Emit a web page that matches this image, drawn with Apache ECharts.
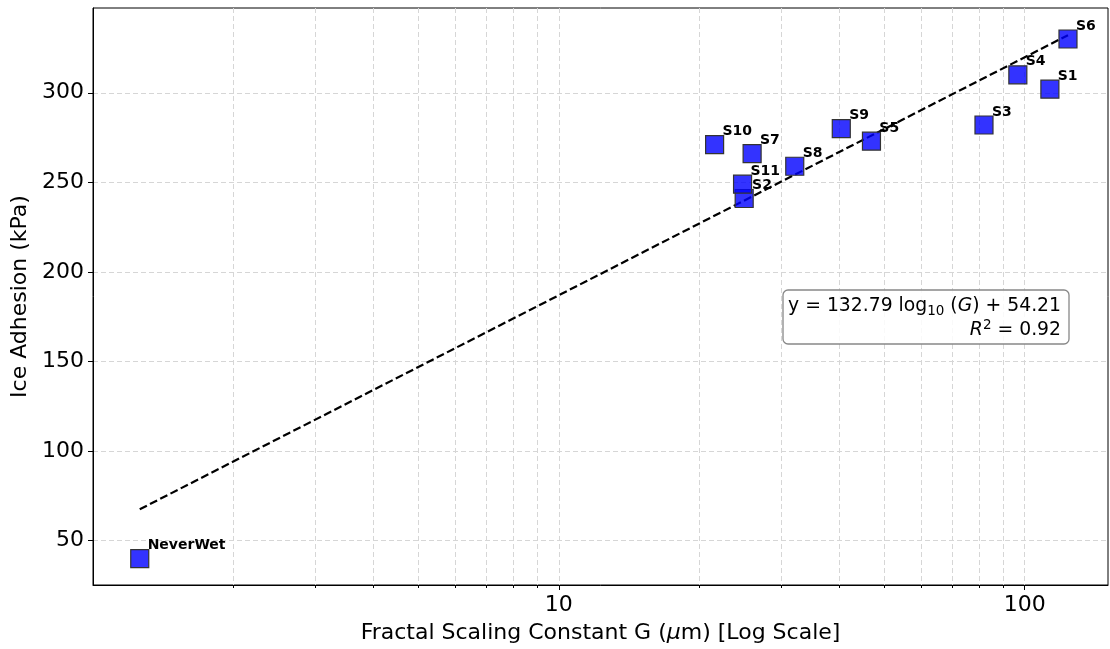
<!DOCTYPE html>
<html>
<head>
<meta charset="utf-8">
<script src="https://cdn.jsdelivr.net/npm/echarts@6.0.0/dist/echarts.min.js"></script>
<style>
  html, body { margin: 0; padding: 0; background: #fff; }
  #chart { width: 1110px; height: 649px; }
</style>
</head>
<body>
<div id="chart"></div>
<script>
// sample data
const sampleNames = ["NeverWet", "S1", "S2", "S3", "S4", "S5", "S6", "S7", "S8", "S9", "S10", "S11"];
const gValues = [1.26, 113.3, 25.0, 81.8, 96.7, 46.9, 123.9, 26.0, 32.1, 40.4, 21.6, 24.8];
const adhesion = [40, 302, 241, 282, 310, 273, 330, 266, 259, 280, 271, 249];

// fitted curve shown in the box
const fitSlope = 132.79;
const fitIntercept = 54.21;
const fitR2 = 0.92;

const xMajorTicks = [10, 100];
const xMinorTicks = [2, 3, 4, 5, 6, 7, 8, 9, 20, 30, 40, 50, 60, 70, 80, 90];
const yTicks = [50, 100, 150, 200, 250, 300];

const FONT = "DejaVu Sans";

(() => {
  let myChart = echarts.init(document.querySelector("#chart"));

  const points = gValues.map((g, i) => [g, adhesion[i], sampleNames[i]]);
  const gMin = Math.min(...gValues);
  const gMax = Math.max(...gValues);
  const fitLine = [gMin, gMax].map((g) => [g, fitSlope * Math.log10(g) + fitIntercept]);

  const gridLine = { type: [5, 3], color: "#d6d6d6", width: 1 };

  let option = {
    animation: false,
    backgroundColor: "#fff",
    textStyle: { fontFamily: FONT },
    grid: {
      left: 93,
      right: 2,
      top: 8,
      bottom: 64,
      show: true,
      borderColor: "#000",
      borderWidth: 1,
      outerBoundsMode: "none",
    },
    xAxis: [
      {
        type: "log",
        logBase: 10,
        min: 1,
        max: 151,
        name: "{a|Fractal Scaling Constant G (}{i|μ}{a|m) [Log Scale]}",
        nameLocation: "middle",
        nameGap: 37,
        nameTextStyle: {
          rich: {
            a: { fontSize: 22, color: "#000", fontFamily: FONT },
            i: { fontSize: 22, color: "#000", fontFamily: FONT, fontStyle: "italic" },
          },
        },
        axisLine: { show: true, lineStyle: { color: "#000", width: 1 } },
        axisTick: { show: true, length: 5, customValues: xMajorTicks, lineStyle: { color: "#000" } },
        axisLabel: { customValues: xMajorTicks, fontSize: 22, color: "#000", margin: 9, fontFamily: FONT },
        splitLine: { show: true, lineStyle: gridLine },
      },
      {
        type: "log",
        logBase: 10,
        min: 1,
        max: 151,
        position: "bottom",
        axisLine: { show: false },
        axisTick: { show: true, length: 3, customValues: xMinorTicks, lineStyle: { color: "#000" } },
        axisLabel: { show: false },
        splitLine: { show: true, lineStyle: gridLine },
      },
    ],
    yAxis: {
      type: "value",
      min: 25.3,
      max: 347.3,
      name: "Ice Adhesion (kPa)",
      nameLocation: "middle",
      nameGap: 59,
      nameRotate: 90,
      nameTextStyle: { fontSize: 22, color: "#000", fontFamily: FONT },
      axisLine: { show: true, lineStyle: { color: "#000", width: 1 } },
      axisTick: { show: true, length: 5, customValues: yTicks, lineStyle: { color: "#000" } },
      axisLabel: { customValues: yTicks, fontSize: 22, color: "#000", margin: 9, fontFamily: FONT },
      splitLine: { show: true, lineStyle: gridLine },
    },
    series: [
      {
        name: "fit",
        type: "line",
        data: fitLine,
        showSymbol: false,
        symbol: "none",
        lineStyle: { color: "#000", width: 2.2, type: [8, 3.5] },
        z: 2,
      },
      {
        name: "samples",
        type: "scatter",
        data: points,
        symbol: "rect",
        symbolSize: 18,
        itemStyle: { color: "rgba(0,0,255,0.8)", borderColor: "#333", borderWidth: 1.2, opacity: 1 },
        label: {
          show: true,
          formatter: (p) => p.data[2],
          position: [17.5, -3.5],
          align: "left",
          verticalAlign: "middle",
          fontSize: 14,
          fontWeight: "bold",
          color: "#000",
          opacity: 1,
          fontFamily: FONT,
        },
        z: 3,
      },
    ],
    graphic: [
      {
        type: "rect",
        shape: { x: 783, y: 290, width: 286, height: 54, r: 5 },
        style: { fill: "rgba(255,255,255,0.85)", stroke: "#888", lineWidth: 1.3 },
        z: 10,
      },
      {
        type: "text",
        x: 1061,
        y: 294,
        z: 11,
        style: {
          text:
            "{a|y = " + fitSlope.toFixed(2) + " log}{s|10}{a| (}{i|G}{a|) + " + fitIntercept.toFixed(2) + "}\n" +
            "{i|R}{p|2}{a| = " + fitR2.toFixed(2) + "}",
          align: "right",
          verticalAlign: "top",
          rich: {
            a: { fontSize: 18.8, lineHeight: 24, fill: "#000", fontFamily: FONT },
            i: { fontSize: 18.8, lineHeight: 24, fill: "#000", fontFamily: FONT, fontStyle: "italic" },
            s: { fontSize: 13.5, lineHeight: 14, fill: "#000", fontFamily: FONT, verticalAlign: "bottom" },
            p: { fontSize: 13.5, lineHeight: 14, fill: "#000", fontFamily: FONT, verticalAlign: "top" },
          },
        },
      },
    ],
  };
  myChart.setOption(option);
  window.addEventListener("resize", () => {
    myChart.resize();
  });
})();
</script>
</body>
</html>
